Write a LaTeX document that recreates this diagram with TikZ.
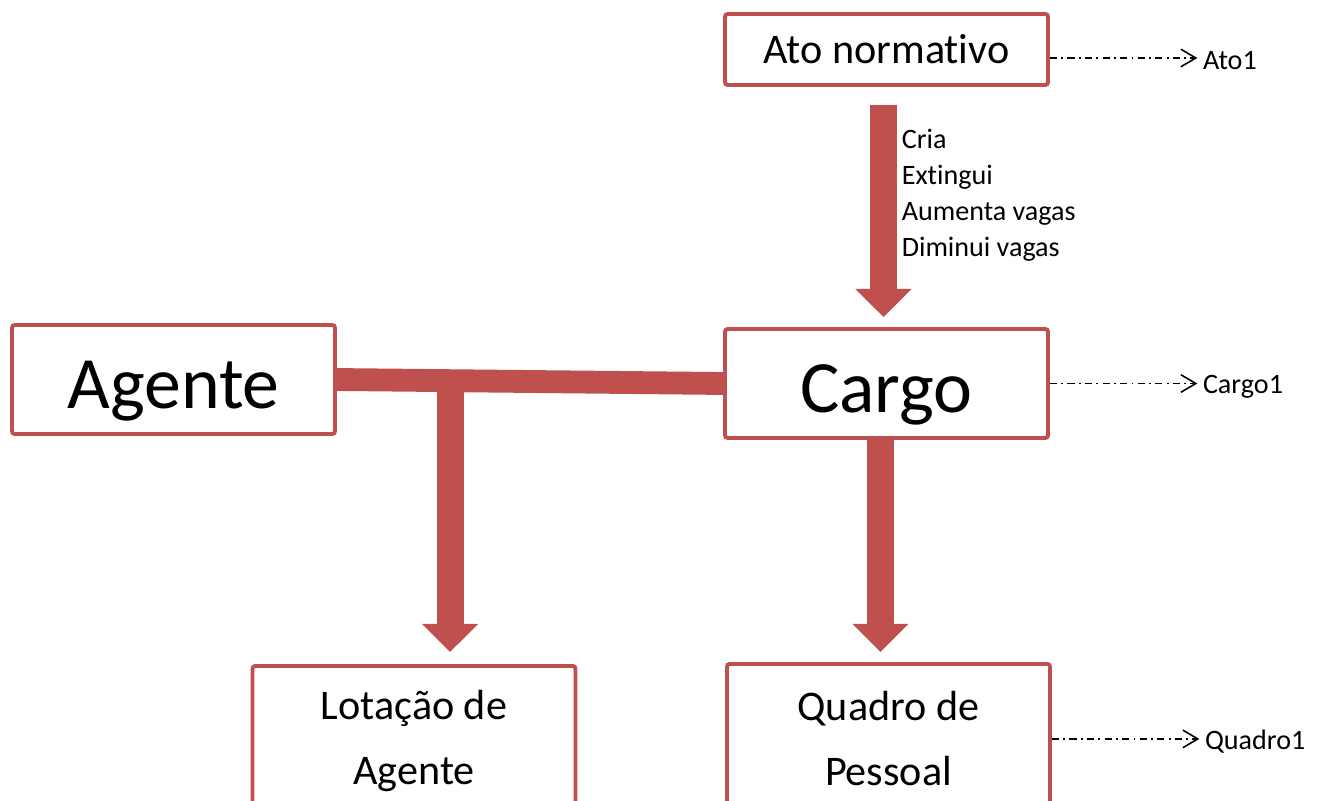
\documentclass[tikz,border=0pt]{standalone}
\usepackage{fontspec}
\setmainfont{Carlito}[Ligatures=NoCommon]
\usetikzlibrary{arrows.meta, positioning, calc}
\definecolor{boxred}{HTML}{C0504D}

\begin{document}
\begin{tikzpicture}[
        % styles
        x=0.02cm, y=-0.02cm,
        box/.style={
            draw=boxred, line width=2.2pt, rounded corners=1.5pt,
            fill=white, minimum width=6.46cm, align=center, inner sep=2pt
        },
        smallbox/.style={box, minimum height=1.42cm, font=\fontsize{24}{29}\selectfont},
        bigbox/.style={box, minimum height=2.18cm, text height=33pt, text depth=0pt,
            font=\fontsize{42}{50}\selectfont},
        tallbox/.style={box, minimum height=3.0cm, font=\fontsize{24}{37}\selectfont},
        bigarrow/.style={-{Triangle[width=31pt,length=16pt]}, line width=15.4pt, color=boxred},
        tag/.style={font=\fontsize{16}{20.5}\selectfont, inner sep=3pt},
        tagarrow/.style={-{Straight Barb[length=8.5pt,width=10pt]}, line width=0.9pt,
            dash pattern=on 4pt off 2.5pt on 1pt off 2.5pt}
    ]

    \clip (0,0) rectangle (1319,801);

    % 1. boxes
    \node (ato) [smallbox] at (886.5,49.5) {Ato normativo};
    \node (agente) [bigbox] at (173.5,379.5) {Agente};
    \node (cargo) [bigbox] at (886.5,383.5) {Cargo};
    \node (lotacao) [tallbox, anchor=north] at (414,664) {Lotação de\\Agente};
    \node (quadro) [tallbox, anchor=north] at (888.5,662) {Quadro de\\Pessoal};

    % 2. thick connectors
    \draw[bigarrow, shorten <=0.36cm, shorten >=0.2cm] ([xshift=-0.06cm]ato.south) -- ([xshift=-0.06cm]cargo.north)
        node[pos=0.45, right=0.06cm, align=left, color=black, tag, inner sep=1pt] {Cria\\Extingui\\Aumenta vagas\\Diminui vagas};

    \draw[boxred, line width=13pt] (agente.east) -- (cargo.west);
    \coordinate (branch) at ($(agente.east)!0.293!(cargo.west)$);
    \draw[bigarrow, shorten >=0.24cm] (branch) -- (branch |- lotacao.north);

    \draw[bigarrow, shorten >=0.2cm] ([xshift=-0.12cm]cargo.south) -- ([xshift=-0.12cm]cargo.south |- quadro.north);

    % 3. instance tags
    \node (ato1) [tag, right=2.95cm of ato, yshift=-0.23cm] {Ato1};
    \node (cargo1) [tag, right=2.95cm of cargo, yshift=-0.06cm] {Cargo1};
    \node (quadro1) [tag, right=2.95cm of quadro, yshift=-0.06cm] {Quadro1};

    \draw[tagarrow] ([yshift=-0.17cm]ato.east) -- ([yshift=0.06cm]ato1.west);
    \draw[tagarrow] (cargo) -- ([yshift=0.06cm]cargo1.west);
    \draw[tagarrow] (quadro) -- ([yshift=0.06cm]quadro1.west);

\end{tikzpicture}
\end{document}
